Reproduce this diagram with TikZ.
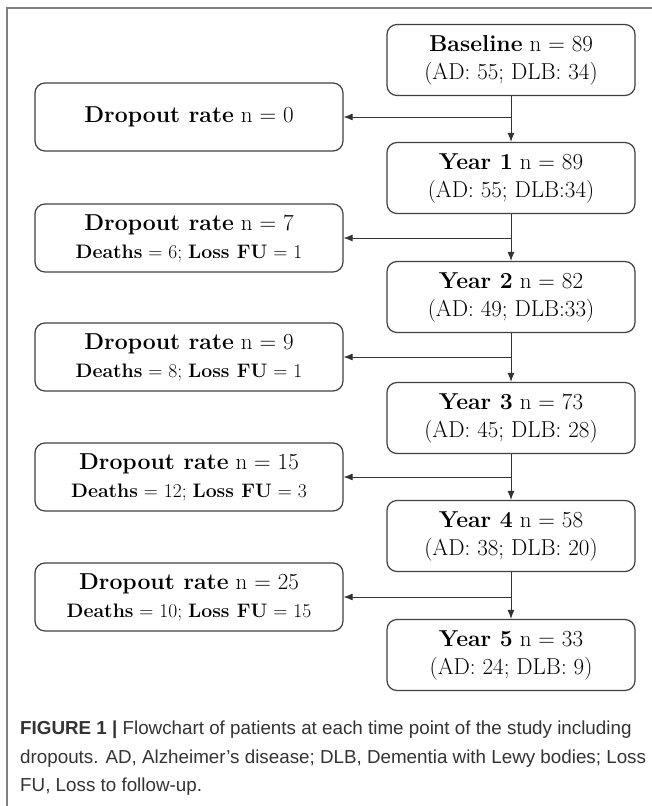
\documentclass[tikz,border=0pt]{standalone}
\usepackage{fontspec}
\usetikzlibrary{arrows.meta}
\newfontfamily\capfont{Liberation Sans}
\newcommand{\lossline}[2]{{\fontsize{19.5}{22}\selectfont\textbf{Deaths} = #1; \textbf{Loss FU} = #2}}
\begin{document}
\begin{tikzpicture}[x=1pt,y=-1pt,>={Latex[length=9pt,width=7pt]},
  stage/.style={draw=black!75,line width=1.2pt,rounded corners=10pt,minimum width=248pt,minimum height=71pt,align=center,inner sep=0pt,font=\fontsize{23}{28}\selectfont},
  drop/.style={stage,minimum width=308pt,minimum height=68pt},
  link/.style={->,draw=black!80,line width=0.9pt}]
\useasboundingbox (0,0) rectangle (652,806);
\draw[black!50,line width=1.5pt] (7,806)--(7,8)--(652,8);
\node[stage] (base) at (511,60) {\textbf{Baseline} n = 89\\(AD: 55; DLB: 34)};
\node[stage] (y1) at (511,178) {\textbf{Year 1} n = 89\\(AD: 55; DLB:34)};
\node[stage] (y2) at (511,297) {\textbf{Year 2} n = 82\\(AD: 49; DLB:33)};
\node[stage] (y3) at (511,418) {\textbf{Year 3} n = 73\\(AD: 45; DLB: 28)};
\node[stage] (y4) at (511,536) {\textbf{Year 4} n = 58\\(AD: 38; DLB: 20)};
\node[stage] (y5) at (511,655) {\textbf{Year 5} n = 33\\(AD: 24; DLB: 9)};
\node[drop] (d0) at (189,117) {\textbf{Dropout rate} n = 0};
\node[drop] (d1) at (189,238) {\textbf{Dropout rate} n = 7\\\lossline{6}{1}};
\node[drop] (d2) at (189,357) {\textbf{Dropout rate} n = 9\\\lossline{8}{1}};
\node[drop] (d3) at (189,477) {\textbf{Dropout rate} n = 15\\\lossline{12}{3}};
\node[drop] (d4) at (189,597) {\textbf{Dropout rate} n = 25\\\lossline{10}{15}};
\foreach \a/\b/\c in {base/y1/d0,y1/y2/d1,y2/y3/d2,y3/y4/d3,y4/y5/d4}{
  \coordinate (s\c) at (\a.south |- \c.east);
  \draw[link] (\a) -- (\b);
  \draw[link] (s\c) -- (\c);
}
\node[anchor=north west,inner sep=0pt,align=left,text=black!80,font=\capfont\fontsize{18.8}{28.5}\selectfont] (cap) at (20,721)
  {\textbf{FIGURE 1 |} Flowchart of patients at each time point of the study including\\
   dropouts. AD, Alzheimer’s disease; DLB, Dementia with Lewy bodies; Loss\\
   FU, Loss to follow-up.};
\end{tikzpicture}
\end{document}
